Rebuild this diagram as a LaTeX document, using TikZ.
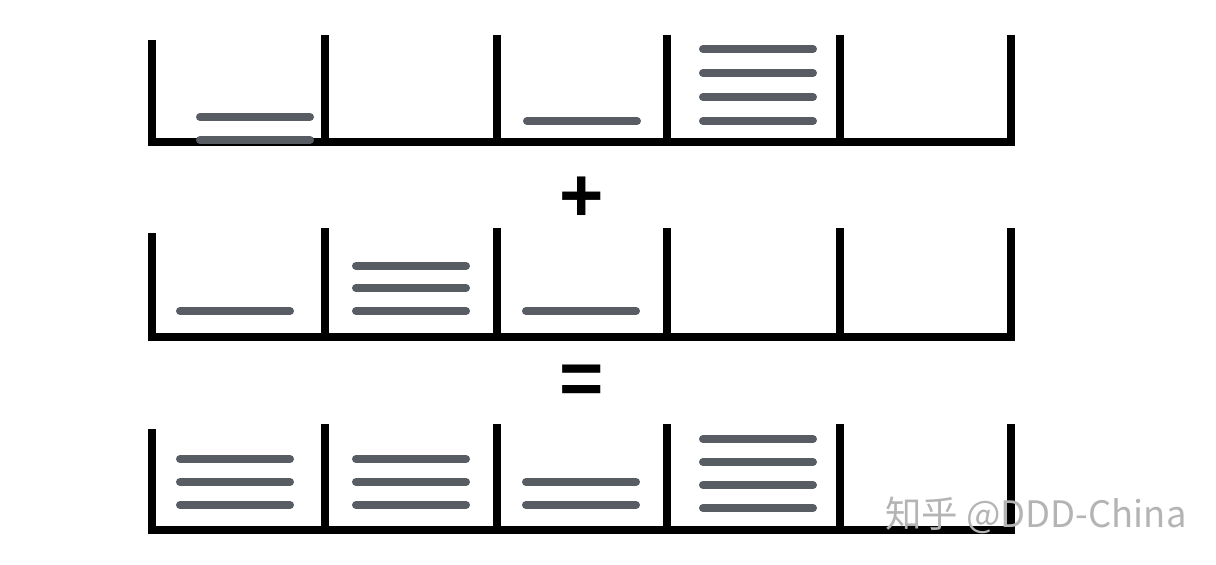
\documentclass[tikz,border=0pt]{standalone}
\usepackage{fontspec}
\newfontfamily\opfont{Liberation Sans}
\newfontfamily\cjkfont{Noto Sans CJK SC}
\usepackage{tikz}
\usetikzlibrary{positioning}
\definecolor{bargray}{RGB}{88,92,99}
\definecolor{markgray}{RGB}{180,180,180}

\begin{document}
\begin{tikzpicture}[
    x=0.5pt, y=-0.5pt,
    wall/.style={line width=3.6pt},
    floor/.style={line width=3.6pt, line cap=rect},
    itembar/.style={draw=bargray, line width=4pt, line cap=round},
    op/.style={font=\opfont\bfseries\fontsize{38}{38}\selectfont, inner sep=0pt},
    watermark/.style={font=\cjkfont\fontsize{18.2}{18.2}\selectfont, text=markgray, inner sep=0pt}
]
    \useasboundingbox (0,0) rectangle (1216,564);

    % three rows of bins: floor y / top of the inner walls
    \foreach \base/\top in {142/35, 337/228, 530/424} {
        \draw[floor] (152,\base) -- (1011,\base);
        \draw[wall] (152,\top+5) -- (152,\base);
        \foreach \x in {325,497,667,840,1011}
            \draw[wall] (\x,\top) -- (\x,\base);
    }

    % items: left end / height
    \foreach \xa/\y in {197/117, 197/140, 524/121, 700/49, 700/73, 700/97, 700/121}
        \draw[itembar] (\xa+3,\y) -- ++(110,0);
    \foreach \xa/\y in {177/311, 353/266, 353/288, 353/311, 523/311}
        \draw[itembar] (\xa+3,\y) -- ++(110,0);
    \foreach \xa/\y in {177/459, 177/482, 177/505, 353/459, 353/482, 353/505,
                        523/482, 523/505, 700/439, 700/462, 700/485, 700/508}
        \draw[itembar] (\xa+3,\y) -- ++(110,0);

    \node[op] (plus) at (582,199) {+};
    \node[op] (equals) at (582,385) {=};

    \node[watermark, anchor=base west] (wm) at (885,527) {知乎 @DDD-China};
\end{tikzpicture}
\end{document}
